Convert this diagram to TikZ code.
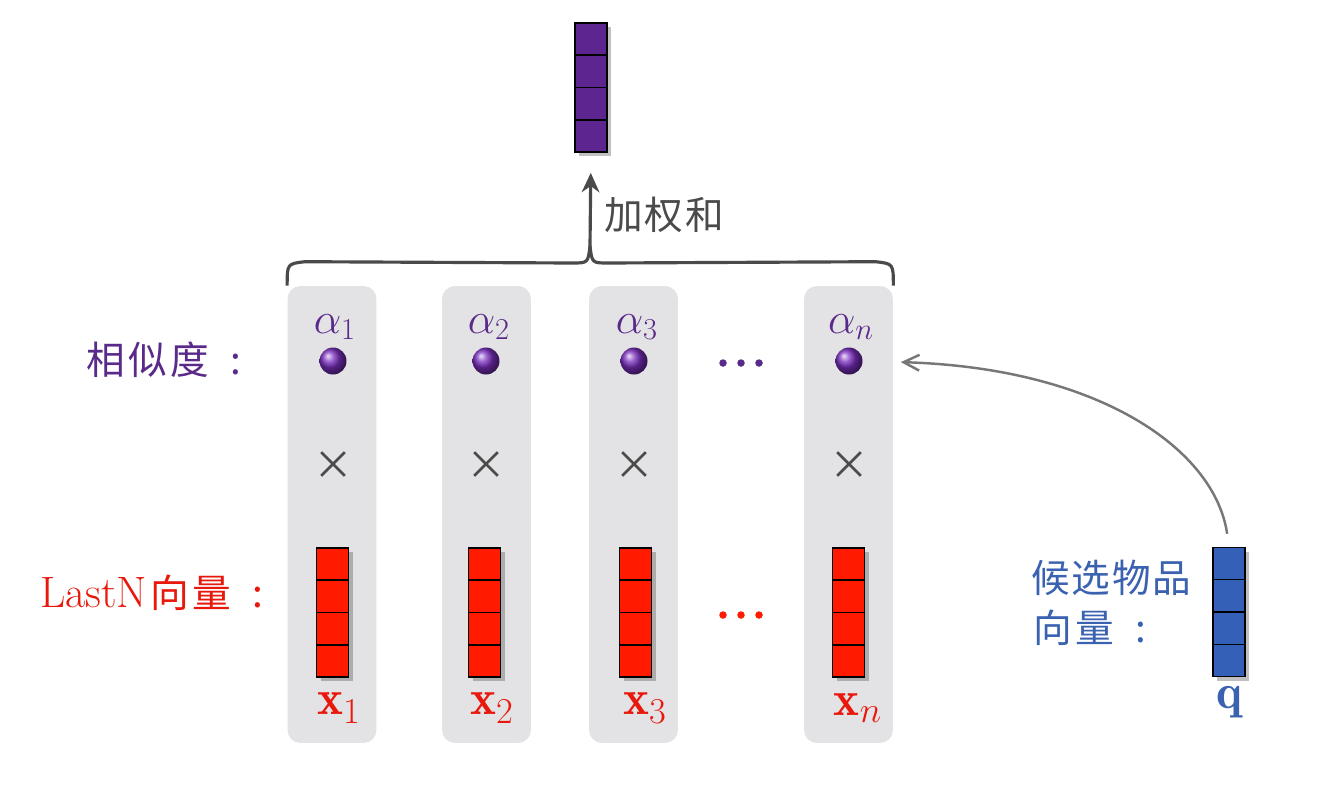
\documentclass[tikz,border=0pt]{standalone}
\usepackage{amsmath}
\usepackage{fontspec}
\newfontfamily\cjk{Noto Sans CJK SC}
\usetikzlibrary{shadows,arrows.meta,calc,shapes.misc}
\definecolor{colgray}{HTML}{E3E2E4}
\definecolor{vpurple}{HTML}{5C2590}
\definecolor{tpurple}{HTML}{5A2A8A}
\definecolor{vred}{HTML}{FF1A00}
\definecolor{tred}{HTML}{E8190C}
\definecolor{vblue}{HTML}{3560B8}
\definecolor{tblue}{HTML}{3A62B0}
\definecolor{darkline}{HTML}{4A4A4A}
\definecolor{curvegray}{HTML}{777777}
\definecolor{ballpurple}{HTML}{7B2FC0}
\newcommand\mkvec[3]{%
  \node[vecbox, fill=#3] (#1) at (#2) {};
  \foreach \f in {0.25,0.5,0.75}
    \draw[line width=0.9pt] ($(#1.north west)!\f!(#1.south west)$) -- ($(#1.north east)!\f!(#1.south east)$);
}
\begin{document}
\begin{tikzpicture}[x=0.02cm,y=-0.02cm,
  colbox/.style={fill=colgray, rounded corners=0.26cm, minimum width=1.78cm, minimum height=9.14cm, inner sep=0pt},
  vecbox/.style={draw=black, line width=1pt, minimum width=0.64cm, minimum height=2.58cm, inner sep=0pt,
    drop shadow={shadow xshift=2.5pt, shadow yshift=-2.5pt, opacity=0.35, fill=black!70}},
  ballnode/.style={circle, minimum size=0.54cm, inner sep=0pt, shading=ball, ball color=ballpurple},
  cjktext/.style={font=\fontsize{22}{28}\selectfont\cjk, inner sep=0pt},
  mathlbl/.style={font=\fontsize{25}{29}\selectfont, inner sep=0pt},
  xlbl/.style={font=\fontsize{28}{32}\selectfont, inner sep=0pt},
  timesnode/.style={cross out, draw=darkline, line width=1.5pt, minimum size=0.42cm, inner sep=0pt},
]
\useasboundingbox[fill=white] (0,0) rectangle (1320,802);

% columns
\node[colbox] (c1) at (332,514.5) {};
\node[colbox] (c2) at (486.5,514.5) {};
\node[colbox] (c3) at (633.5,514.5) {};
\node[colbox] (c4) at (848.5,514.5) {};

% alpha labels
\node[mathlbl, text=tpurple] (a1) at (335,327) {$\alpha_1$};
\node[mathlbl, text=tpurple] (a2) at (489,327) {$\alpha_2$};
\node[mathlbl, text=tpurple] (a3) at (637,327) {$\alpha_3$};
\node[mathlbl, text=tpurple] (an) at (851,327) {$\alpha_n$};

% balls
\node[ballnode] (b1) at (333,361) {};
\node[ballnode] (b2) at (486,361) {};
\node[ballnode] (b3) at (634,361) {};
\node[ballnode] (bn) at (849,361) {};

% times
\node[timesnode] (t1) at (333,464) {};
\node[timesnode] (t2) at (486,464) {};
\node[timesnode] (t3) at (634,464) {};
\node[timesnode] (tn) at (849,464) {};

% red vectors
\mkvec{v1}{332.5,612.5}{vred}
\mkvec{v2}{484.5,612.5}{vred}
\mkvec{v3}{635.5,612.5}{vred}
\mkvec{vn}{848.5,612.5}{vred}

% x labels
\node[xlbl, text=tred] (x1) at (339,708) {$\mathbf{x}_1$};
\node[xlbl, text=tred] (x2) at (492,708) {$\mathbf{x}_2$};
\node[xlbl, text=tred] (x3) at (645,708) {$\mathbf{x}_3$};
\node[xlbl, text=tred] (xn) at (858,708) {$\mathbf{x}_n$};

% dots
\foreach \i in {-18,0,18} {
  \fill[tpurple] ({741+\i},363) circle (0.075cm);
  \fill[vred] ({741+\i},615) circle (0.075cm);
}

% top purple vector
\mkvec{top}{591,87.5}{vpurple}

% blue q vector
\mkvec{vq}{1229,612}{vblue}
\node[xlbl, text=tblue] (qlbl) at (1229,702) {$\mathbf{q}$};

% brace
\coordinate (brtip) at (590,246);
\draw[darkline, line width=1.8pt]
  (c1.north west) .. controls ($(c1.north west)+(0,-22)$) .. ($(c1.north west)+(18,-24)$)
  -- (572,263) .. controls (588,263) .. (brtip);
\draw[darkline, line width=1.8pt]
  (c4.north east) .. controls ($(c4.north east)+(0,-22)$) .. ($(c4.north east)+(-18,-24)$)
  -- (608,263) .. controls (592,263) .. (brtip);
\draw[darkline, line width=1.8pt, -{Stealth[length=11pt,width=10pt,inset=3.5pt]}, shorten >=0.4cm]
  (brtip) -- (top.south);
\node[cjktext, text=darkline, anchor=west] (wsum) at (604,215) {加\hspace{1pt}权\hspace{1pt}和};

% curved arrow from q to alpha_n
\draw[curvegray, line width=1.4pt, -{Straight Barb[length=9pt,width=9pt,line width=1.4pt]},
  shorten <=0.26cm, shorten >=0.76cm]
  (vq.north) .. controls (1215,450) and (1100,368) .. (bn.east);

% left labels
\node[cjktext, text=tpurple, anchor=east] (lsim) at (242,360) {相\hspace{2pt}似\hspace{2pt}度\hspace{0.55em}:};
\node[cjktext, text=tred, anchor=east] (llast) at (264,593) {{\fontsize{25}{30}\selectfont\rmfamily LastN}\hspace{2pt}向\hspace{2pt}量\hspace{0.55em}:};

% candidate label
\node[cjktext, text=tblue, anchor=west] (lcand1) at (1031,578) {候\hspace{1pt}选\hspace{1pt}物\hspace{1pt}品};
\node[cjktext, text=tblue, anchor=west] (lcand2) at (1033,628) {向\hspace{2pt}量\hspace{0.55em}:};
\end{tikzpicture}
\end{document}
